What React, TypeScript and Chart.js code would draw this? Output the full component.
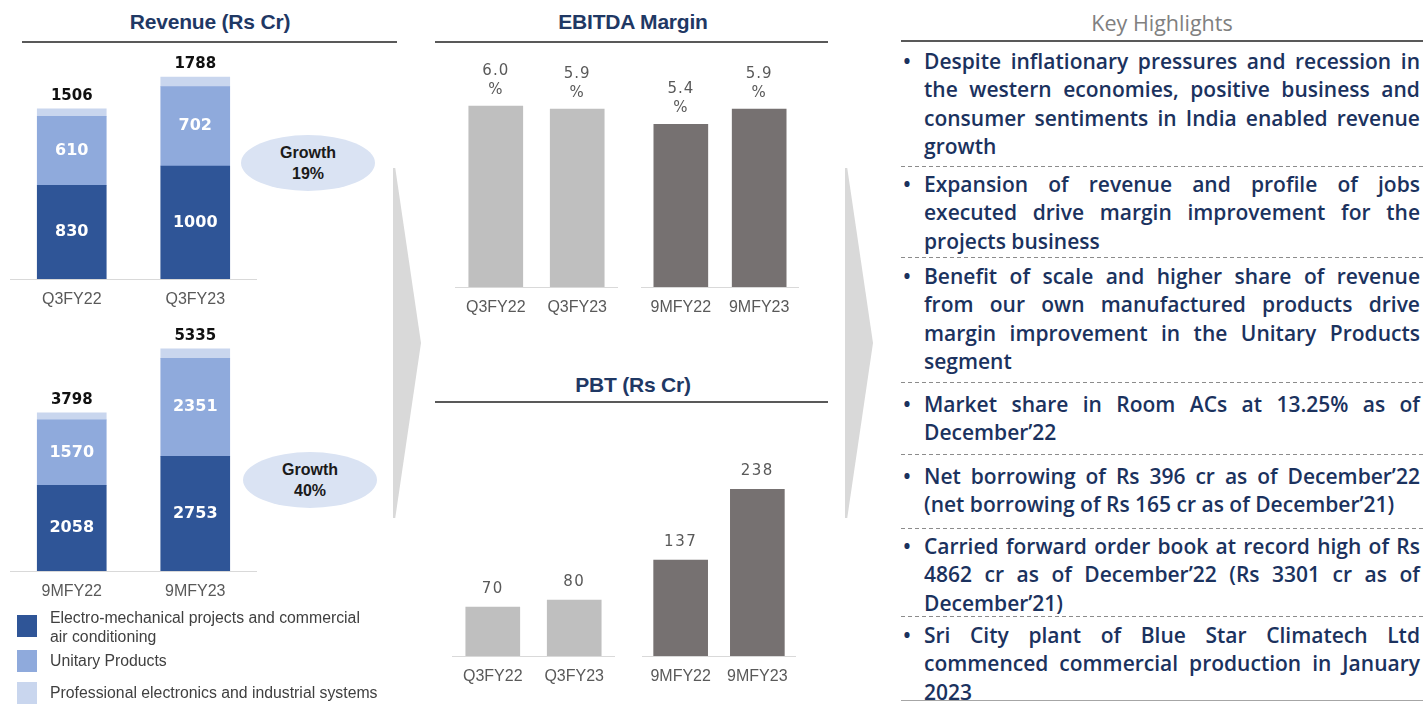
import React, { useEffect, useRef } from "react";
import { Chart, registerables } from "chart.js";

Chart.register(...registerables);

// ---------------- DATA ----------------
const revenueSegments = [
  "Electro-mechanical projects and commercial air conditioning",
  "Unitary Products",
  "Professional electronics and industrial systems",
];
const revenueSegmentLegendLines = [
  ["Electro-mechanical projects and commercial", "air conditioning"],
  ["Unitary Products"],
  ["Professional electronics and industrial systems"],
];
const quarterCategories = ["Q3FY22", "Q3FY23"];
const nineMonthCategories = ["9MFY22", "9MFY23"];

const q3Emp = [830, 1000];
const q3Unitary = [610, 702];
const q3Pes = [66, 86];
const q3Totals = ["1506", "1788"];

const nmEmp = [2058, 2753];
const nmUnitary = [1570, 2351];
const nmPes = [170, 231];
const nmTotals = ["3798", "5335"];

const revenueGrowth = ["19%", "40%"];

const ebitdaQuarter = [6.0, 5.9];
const ebitdaNineMonth = [5.4, 5.9];

const pbtQuarter = [70, 80];
const pbtNineMonth = [137, 238];

const highlights: string[][] = [
  [
    "Despite inflationary pressures and recession in",
    "the western economies, positive business and",
    "consumer sentiments in India enabled revenue",
    "growth",
  ],
  [
    "Expansion of revenue and profile of jobs",
    "executed drive margin improvement for the",
    "projects business",
  ],
  [
    "Benefit of scale and higher share of revenue",
    "from our own manufactured products drive",
    "margin improvement in the Unitary Products",
    "segment",
  ],
  ["Market share in Room ACs at 13.25% as of", "December\u201922"],
  [
    "Net borrowing of Rs 396 cr as of December\u201922",
    "(net borrowing of Rs 165 cr as of December\u201921)",
  ],
  [
    "Carried forward order book at record high of Rs",
    "4862 cr as of December\u201922 (Rs 3301 cr as of",
    "December\u201921)",
  ],
  [
    "Sri City plant of Blue Star Climatech Ltd",
    "commenced commercial production in January",
    "2023",
  ],
];

// ---------------- STYLE ----------------
const SEG_COLORS = ["#2F5597", "#8FAADC", "#C9D6EE"];
const LIGHT_GREY = "#BFBFBF";
const DARK_GREY = "#767171";
const NAVY = "#1F3864";
const TICK_FONT = { family: "'Liberation Sans', Arial, sans-serif", size: 16, lineHeight: 1.25 };
const TICK_PAD = 11;
const AXIS_H = 20 + 2 * TICK_PAD;

type LabelSpec = {
  inside?: number[];
  totals?: string[];
  top?: { lines: (v: number) => string[]; offsets: number[]; font: string; spacing: string };
};

function labelPlugin(spec: LabelSpec) {
  return {
    id: "barLabels",
    afterDatasetsDraw(chart: any) {
      const ctx = chart.ctx as CanvasRenderingContext2D;
      ctx.save();
      ctx.textAlign = "center";
      ctx.textBaseline = "middle";
      if (spec.inside) {
        ctx.font = "bold 16px 'DejaVu Sans'";
        ctx.fillStyle = "#FFFFFF";
        for (const di of spec.inside) {
          const meta = chart.getDatasetMeta(di);
          meta.data.forEach((el: any, i: number) => {
            const mid = (el.y + el.base) / 2;
            ctx.fillText(String(chart.data.datasets[di].data[i]), el.x, mid);
          });
        }
      }
      if (spec.totals) {
        const last = chart.getDatasetMeta(chart.data.datasets.length - 1);
        ctx.font = "bold 15px 'DejaVu Sans'";
        ctx.fillStyle = "#111111";
        last.data.forEach((el: any, i: number) => {
          ctx.fillText(spec.totals![i], el.x, el.y - 13);
        });
      }
      if (spec.top) {
        const t = spec.top;
        ctx.font = t.font;
        (ctx as any).letterSpacing = t.spacing;
        ctx.fillStyle = "#595959";
        chart.data.datasets.forEach((ds: any, di: number) => {
          const meta = chart.getDatasetMeta(di);
          meta.data.forEach((el: any, i: number) => {
            const lines = t.lines(ds.data[i]);
            lines.forEach((ln, li) => ctx.fillText(ln, el.x, el.y - t.offsets[li]));
          });
        });
      }
      ctx.restore();
    },
  };
}

function baseOptions(max: number, stacked: boolean, padTop: number) {
  return {
    responsive: false,
    animation: false,
    layout: { padding: { top: padTop, left: 0, right: 0, bottom: 0 } },
    plugins: { legend: { display: false }, tooltip: { enabled: false } },
    scales: {
      x: {
        stacked,
        grid: { display: false, drawTicks: false },
        border: { display: true, color: "#D9D9D9", width: 1 },
        ticks: { color: "#595959", font: TICK_FONT, padding: TICK_PAD, maxRotation: 0, autoSkip: false },
      },
      y: { stacked, display: false, min: 0, max },
    },
  };
}

function stackedRevenueConfig(labels: string[], emp: number[], uni: number[], pes: number[], totals: string[], max: number, padTop: number) {
  const series = [emp, uni, pes];
  return {
    type: "bar",
    data: {
      labels,
      datasets: series.map((d, i) => ({
        label: revenueSegments[i],
        data: d,
        backgroundColor: SEG_COLORS[i],
        borderWidth: 0,
        barThickness: 69,
      })),
    },
    options: baseOptions(max, true, padTop),
    plugins: [labelPlugin({ inside: [0, 1], totals })],
  };
}

function simpleConfig(labels: string[], values: number[], color: string, max: number, padTop: number, top: LabelSpec["top"]) {
  return {
    type: "bar",
    data: {
      labels,
      datasets: [{ data: values, backgroundColor: color, borderWidth: 0, barThickness: 54 }],
    },
    options: baseOptions(max, false, padTop),
    plugins: [labelPlugin({ top })],
  };
}

const ebitdaTop = {
  lines: (v: number) => [v.toFixed(1), "%"],
  offsets: [35, 16],
  font: "15px 'DejaVu Sans'",
  spacing: "1px",
};
const pbtTop = {
  lines: (v: number) => [String(v)],
  offsets: [18],
  font: "15px 'DejaVu Sans'",
  spacing: "1.5px",
};

function ChartBox(props: { left: number; width: number; baseline: number; plotH: number; padTop: number; make: () => any }) {
  const ref = useRef<HTMLCanvasElement | null>(null);
  const { left, width, baseline, plotH, padTop, make } = props;
  const height = padTop + plotH + AXIS_H;
  const top = baseline - plotH - padTop;
  useEffect(() => {
    if (!ref.current) return;
    const chart = new Chart(ref.current, make());
    return () => chart.destroy();
  }, []);
  return (
    <canvas
      ref={ref}
      width={width}
      height={height}
      style={{ position: "absolute", left, top, width, height }}
    />
  );
}

function Title(props: { cx: number; cy: number; text: string }) {
  return (
    <div
      style={{
        position: "absolute",
        left: props.cx - 200,
        width: 400,
        top: props.cy - 14,
        height: 28,
        lineHeight: "28px",
        textAlign: "center",
        fontFamily: "'Liberation Sans', Arial, sans-serif",
        fontWeight: 700,
        fontSize: 21,
        letterSpacing: "-0.2px",
        color: NAVY,
      }}
    >
      {props.text}
    </div>
  );
}

function HLine(props: { x1: number; x2: number; y: number; h?: number; color?: string }) {
  return (
    <div
      style={{
        position: "absolute",
        left: props.x1,
        width: props.x2 - props.x1,
        top: props.y - 1,
        height: props.h ?? 2,
        background: props.color ?? "#595959",
      }}
    />
  );
}

function Chevron(props: { x: number; tip: number }) {
  const { x, tip } = props;
  const w = tip - x;
  return (
    <div
      style={{
        position: "absolute",
        left: x,
        top: 168,
        width: w,
        height: 350,
        background: "#D9D9D9",
        clipPath: "polygon(0 0, 8% 0, 100% 50%, 8% 100%, 0 100%)",
      }}
    />
  );
}

function GrowthBubble(props: { cx: number; cy: number; value: string }) {
  return (
    <div
      style={{
        position: "absolute",
        left: props.cx - 67,
        top: props.cy - 28,
        width: 134,
        height: 56,
        borderRadius: "50%",
        background: "#DAE3F3",
        display: "flex",
        flexDirection: "column",
        alignItems: "center",
        justifyContent: "center",
        fontFamily: "'Liberation Sans', Arial, sans-serif",
        fontWeight: 700,
        fontSize: 16,
        lineHeight: "21px",
        color: "#1A1A1A",
      }}
    >
      <div>Growth</div>
      <div>{props.value}</div>
    </div>
  );
}

const itemFirstLine = [61, 184, 276, 404, 476, 546, 635];
const LINE_STEP = 28.4;
const separatorsY = [166, 257, 382, 454, 528, 616];

function Highlights() {
  const textStyle: React.CSSProperties = {
    fontFamily: "'Open Sans', 'Noto Sans', sans-serif",
    fontWeight: 600,
    fontSize: 21,
    color: "#1B325E",
    whiteSpace: "nowrap",
  };
  const nodes: React.ReactNode[] = [];
  highlights.forEach((item, ii) => {
    const y0 = itemFirstLine[ii];
    nodes.push(
      <div key={"b" + ii} style={{ ...textStyle, position: "absolute", left: 903, top: y0 - 14, height: 28, lineHeight: "28px" }}>
        {"\u2022"}
      </div>
    );
    item.forEach((line, li) => {
      const cy = y0 + li * LINE_STEP;
      const isLast = li === item.length - 1;
      const common: React.CSSProperties = {
        ...textStyle,
        position: "absolute",
        left: 924,
        top: cy - 14,
        height: 28,
        lineHeight: "28px",
      };
      if (isLast) {
        nodes.push(
          <div key={`l${ii}-${li}`} style={common}>
            {line}
          </div>
        );
      } else {
        nodes.push(
          <div key={`l${ii}-${li}`} style={{ ...common, width: 496, display: "flex", justifyContent: "space-between" }}>
            {line.split(" ").map((w, wi) => (
              <span key={wi}>{w}</span>
            ))}
          </div>
        );
      }
    });
  });
  separatorsY.forEach((y, i) =>
    nodes.push(
      <div
        key={"s" + i}
        style={{
          position: "absolute",
          left: 901,
          width: 522,
          top: y,
          height: 1,
          background: "repeating-linear-gradient(to right, #8C8C8C 0 4px, transparent 4px 7px)",
        }}
      />
    )
  );
  nodes.push(<div key="bottom" style={{ position: "absolute", left: 901, width: 522, top: 700, height: 1, background: "#A6A6A6" }} />);
  return <>{nodes}</>;
}

function Legend() {
  const rows = [
    { sq: 615, text: [618, 637] },
    { sq: 650, text: [661] },
    { sq: 682, text: [693] },
  ];
  return (
    <>
      {revenueSegmentLegendLines.map((lines, i) => (
        <React.Fragment key={i}>
          <div style={{ position: "absolute", left: 17, top: rows[i].sq, width: 20, height: 22, background: SEG_COLORS[i] }} />
          {lines.map((t, li) => (
            <div
              key={li}
              style={{
                position: "absolute",
                left: 50,
                top: rows[i].text[li] - 10,
                height: 20,
                lineHeight: "20px",
                fontFamily: "'Liberation Sans', Arial, sans-serif",
                fontSize: 15.8,
                color: "#404040",
                whiteSpace: "nowrap",
              }}
            >
              {t}
            </div>
          ))}
        </React.Fragment>
      ))}
    </>
  );
}

export default function App() {
  return (
    <div
      style={{
        position: "absolute",
        left: 0,
        top: 0,
        width: 1423,
        height: 704,
        overflow: "hidden",
        background: "#FFFFFF",
      }}
    >
      <Chevron x={393} tip={421} />
      <Chevron x={845} tip={873} />

      {/* Revenue */}
      <Title cx={210} cy={22} text="Revenue (Rs Cr)" />
      <HLine x1={22} x2={397} y={42} />
      <ChartBox
        left={10}
        width={247}
        baseline={279}
        plotH={226}
        padTop={30}
        make={() => stackedRevenueConfig(quarterCategories, q3Emp, q3Unitary, q3Pes, q3Totals, 2000, 30)}
      />
      <ChartBox
        left={10}
        width={247}
        baseline={571}
        plotH={250}
        padTop={20}
        make={() => stackedRevenueConfig(nineMonthCategories, nmEmp, nmUnitary, nmPes, nmTotals, 6000, 20)}
      />
      <GrowthBubble cx={308} cy={163} value={revenueGrowth[0]} />
      <GrowthBubble cx={310} cy={480} value={revenueGrowth[1]} />
      <Legend />

      {/* EBITDA */}
      <Title cx={633} cy={22} text="EBITDA Margin" />
      <HLine x1={435} x2={828} y={42} />
      <ChartBox
        left={455}
        width={163}
        baseline={287}
        plotH={211}
        padTop={40}
        make={() => simpleConfig(quarterCategories, ebitdaQuarter, LIGHT_GREY, 7, 40, ebitdaTop)}
      />
      <ChartBox
        left={640}
        width={160}
        baseline={287}
        plotH={211}
        padTop={40}
        make={() => simpleConfig(nineMonthCategories, ebitdaNineMonth, DARK_GREY, 7, 40, ebitdaTop)}
      />

      {/* PBT */}
      <Title cx={633} cy={385} text="PBT (Rs Cr)" />
      <HLine x1={435} x2={828} y={402} />
      <ChartBox
        left={452}
        width={163}
        baseline={656}
        plotH={196}
        padTop={30}
        make={() => simpleConfig(quarterCategories, pbtQuarter, LIGHT_GREY, 280, 30, pbtTop)}
      />
      <ChartBox
        left={640}
        width={158}
        baseline={656}
        plotH={196}
        padTop={30}
        make={() => simpleConfig(nineMonthCategories, pbtNineMonth, DARK_GREY, 280, 30, pbtTop)}
      />

      {/* Key highlights */}
      <div
        style={{
          position: "absolute",
          left: 1162 - 150,
          width: 300,
          top: 8,
          height: 30,
          lineHeight: "30px",
          textAlign: "center",
          fontFamily: "'Open Sans', 'Noto Sans', sans-serif",
          fontSize: 21.5,
          color: "#808080",
        }}
      >
        Key Highlights
      </div>
      <HLine x1={901} x2={1423} y={41} />
      <Highlights />
    </div>
  );
}
